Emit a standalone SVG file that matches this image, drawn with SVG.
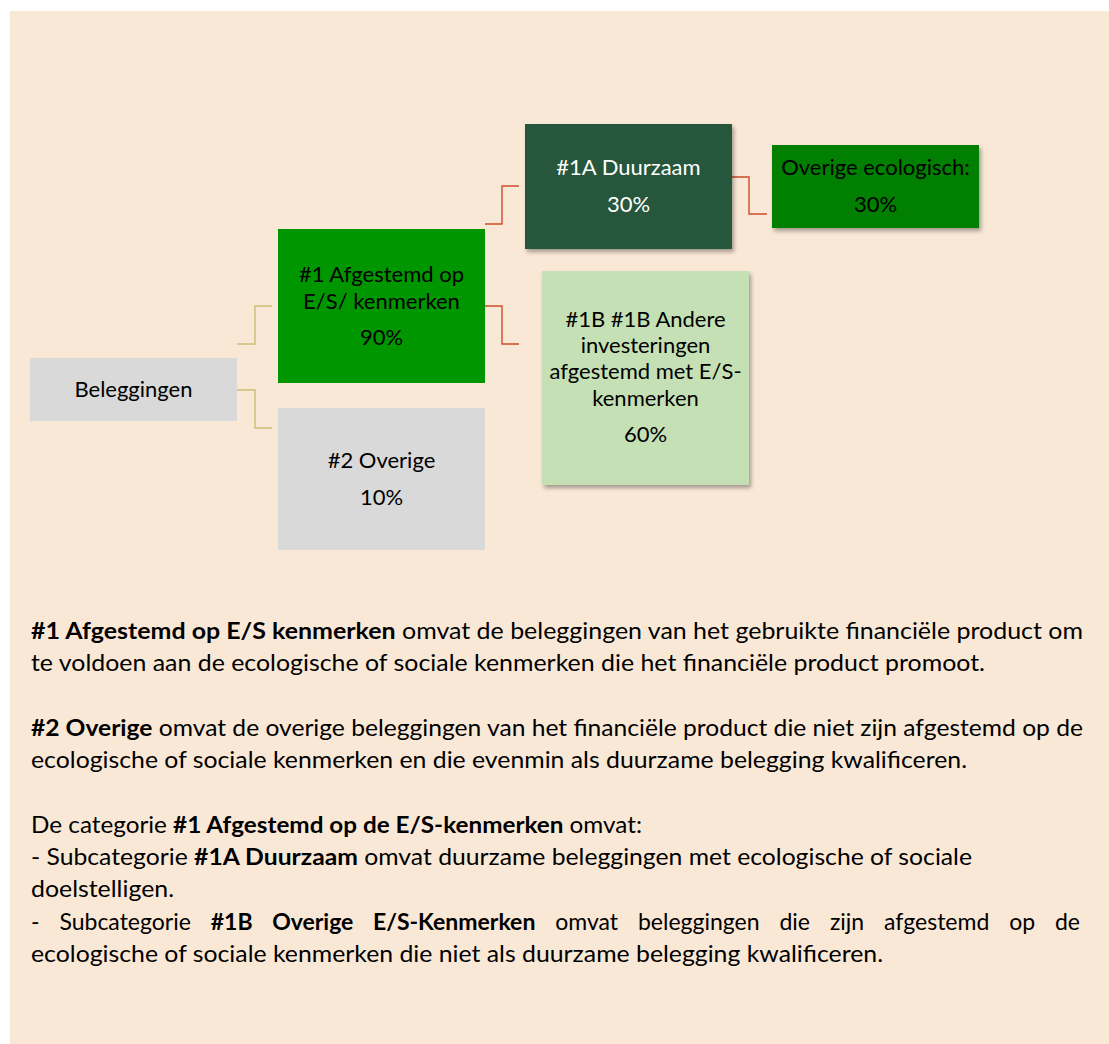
<svg xmlns="http://www.w3.org/2000/svg" width="1109" height="1044" viewBox="0 0 1109 1044">
<style>
.bx{font-family:Lato,"Open Sans","Liberation Sans",sans-serif;font-size:22px;text-anchor:middle;fill:#000}
.wt{fill:#fff}
.body{font-family:Lato,"Open Sans","Liberation Sans",sans-serif;font-size:23px;fill:#000}
.b{font-weight:bold}
.tan{fill:none;stroke:#cdbd78;stroke-width:1.4}
.red{fill:none;stroke:#cc4b2a;stroke-width:1.4}
</style>
<defs>
<filter id="sh" x="-10%" y="-10%" width="125%" height="130%">
<feDropShadow dx="2" dy="3" stdDeviation="2" flood-color="#000" flood-opacity="0.35"/>
</filter>
</defs>
<rect x="10" y="11" width="1099" height="1033" fill="#fae8d7"/>
<g id="connectors">
<path class="tan" d="M237,344 H255 V306 H272"/>
<path class="tan" d="M237,390 H255 V428 H272"/>
<path class="red" d="M485,224 H502 V186 H519"/>
<path class="red" d="M485,306 H502 V344 H519"/>
<path class="red" d="M732,177 H749 V214 H767"/>
</g>
<g id="node-beleggingen">
<rect x="30" y="358" width="207" height="63" fill="#d9d9d9"/>
<text class="bx" x="133.5" y="397">Beleggingen</text>
</g>
<g id="node-1">
<rect x="278" y="229" width="207" height="154" fill="#009600"/>
<text class="bx" x="381.5" y="282">#1 Afgestemd op</text>
<text class="bx" x="381.5" y="309">E/S/ kenmerken</text>
<text class="bx" x="381.5" y="345">90%</text>
</g>
<g id="node-2">
<rect x="278" y="408" width="207" height="142" fill="#d9d9d9"/>
<text class="bx" x="381.5" y="468">#2 Overige</text>
<text class="bx" x="381.5" y="505">10%</text>
</g>
<g id="node-1a">
<rect x="525" y="124" width="207" height="125" fill="#26573a" filter="url(#sh)"/>
<text class="bx wt" x="628.5" y="175">#1A Duurzaam</text>
<text class="bx wt" x="628.5" y="212">30%</text>
</g>
<g id="node-overige-ecologisch">
<rect x="772" y="145" width="207" height="83" fill="#007f00" filter="url(#sh)"/>
<text class="bx" x="875.5" y="175">Overige ecologisch:</text>
<text class="bx" x="875.5" y="212">30%</text>
</g>
<g id="node-1b">
<rect x="542" y="271" width="207" height="214" fill="#c5e0b4" filter="url(#sh)"/>
<text class="bx" x="645.5" y="327">#1B #1B Andere</text>
<text class="bx" x="645.5" y="353">investeringen</text>
<text class="bx" x="645.5" y="379">afgestemd met E/S-</text>
<text class="bx" x="645.5" y="406">kenmerken</text>
<text class="bx" x="645.5" y="442">60%</text>
</g>
<g id="text">
<text class="body" x="31" y="639" textLength="1052" lengthAdjust="spacingAndGlyphs"><tspan class="b">#1 Afgestemd op E/S kenmerken</tspan> omvat de beleggingen van het gebruikte financiële product om</text>
<text class="body" x="31" y="671" textLength="954" lengthAdjust="spacingAndGlyphs">te voldoen aan de ecologische of sociale kenmerken die het financiële product promoot.</text>
<text class="body" x="31" y="736" textLength="1052" lengthAdjust="spacingAndGlyphs"><tspan class="b">#2 Overige</tspan> omvat de overige beleggingen van het financiële product die niet zijn afgestemd op de</text>
<text class="body" x="31" y="768" textLength="936" lengthAdjust="spacingAndGlyphs">ecologische of sociale kenmerken en die evenmin als duurzame belegging kwalificeren.</text>
<text class="body" x="31" y="833" textLength="611" lengthAdjust="spacingAndGlyphs">De categorie <tspan class="b">#1 Afgestemd op de E/S-kenmerken</tspan> omvat:</text>
<text class="body" x="31" y="865" textLength="941" lengthAdjust="spacingAndGlyphs">- Subcategorie <tspan class="b">#1A Duurzaam</tspan> omvat duurzame beleggingen met ecologische of sociale</text>
<text class="body" x="31" y="897" textLength="143" lengthAdjust="spacingAndGlyphs">doelstelligen.</text>
<text class="body" x="31" y="930" word-spacing="14">- Subcategorie <tspan class="b">#1B Overige E/S-Kenmerken</tspan> omvat beleggingen die zijn afgestemd op de</text>
<text class="body" x="31" y="962" textLength="852" lengthAdjust="spacingAndGlyphs">ecologische of sociale kenmerken die niet als duurzame belegging kwalificeren.</text>
</g>
</svg>
